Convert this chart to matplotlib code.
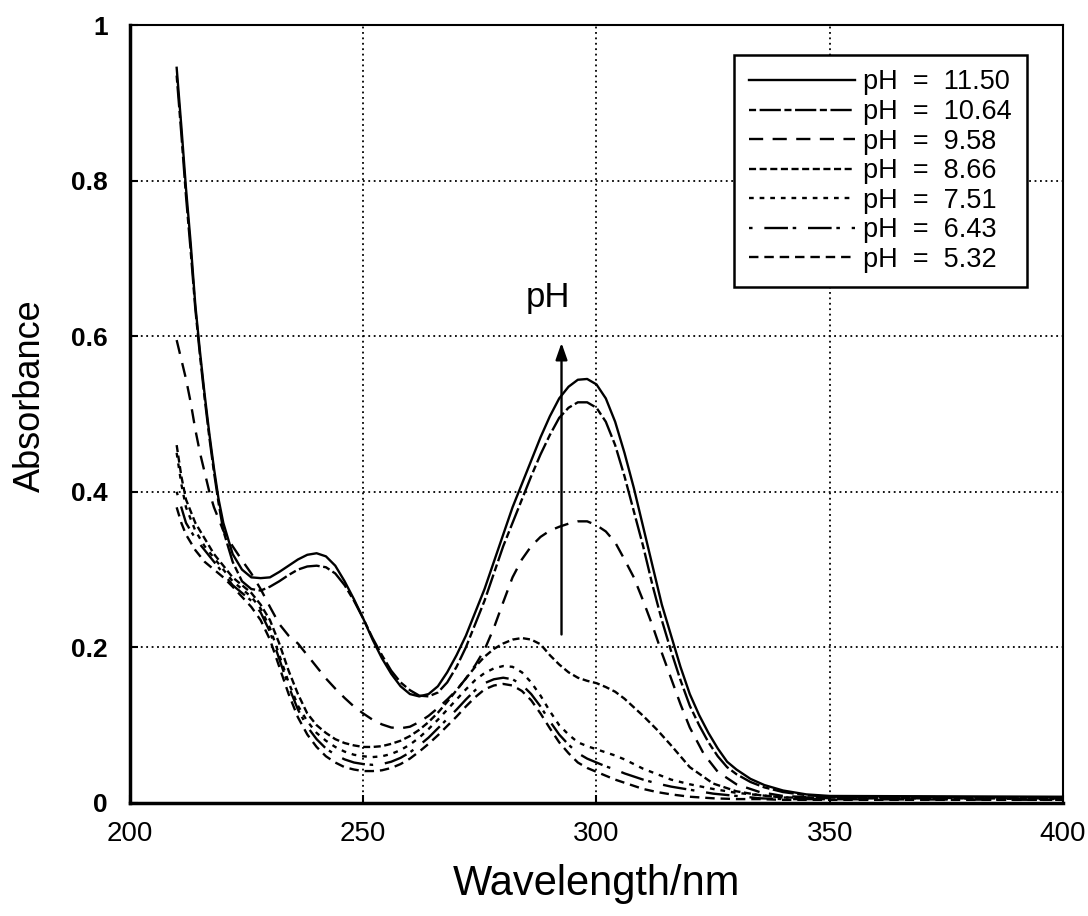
import matplotlib
matplotlib.use("Agg")
import matplotlib.pyplot as plt

plt.rcParams['font.family'] = ['Liberation Sans', 'DejaVu Sans']

# wavelength (nm) / absorbance
wl_a = [210, 211, 212, 213, 214, 215, 216, 217, 218, 219, 220, 222, 224, 226, 228, 230, 232, 234, 236, 238,
        240, 242, 244, 246, 248, 250, 252, 254, 256, 258, 260, 262, 264, 266, 268, 270, 272, 274, 276, 278,
        280, 282, 284, 286, 288, 290, 292, 294, 296, 298, 300, 302, 304, 306, 308, 310, 312, 314, 316, 318,
        320, 322, 324, 326, 328, 330, 333, 336, 340, 345, 350, 400]
abs_a = [0.945, 0.87, 0.79, 0.72, 0.64, 0.58, 0.525, 0.475, 0.43, 0.39, 0.36, 0.32, 0.30, 0.29, 0.289, 0.29, 0.297, 0.305, 0.313, 0.319,
         0.321, 0.317, 0.305, 0.285, 0.262, 0.237, 0.21, 0.186, 0.166, 0.15, 0.14, 0.137, 0.14, 0.15, 0.168, 0.19, 0.215, 0.245, 0.275, 0.31,
         0.345, 0.38, 0.41, 0.44, 0.47, 0.497, 0.52, 0.535, 0.544, 0.545, 0.538, 0.52, 0.49, 0.45, 0.405, 0.355, 0.305, 0.255, 0.215, 0.175,
         0.14, 0.113, 0.09, 0.07, 0.053, 0.043, 0.031, 0.023, 0.016, 0.011, 0.009, 0.008]

wl_b = [210, 211, 212, 213, 214, 215, 216, 217, 218, 219, 220, 222, 224, 226, 228, 230, 232, 234, 236, 238,
        240, 242, 244, 246, 248, 250, 252, 254, 256, 258, 260, 262, 264, 266, 268, 270, 272, 274, 276, 278,
        280, 282, 284, 286, 288, 290, 292, 294, 296, 298, 300, 302, 304, 306, 308, 310, 312, 314, 316, 318,
        320, 322, 324, 326, 328, 330, 333, 336, 340, 345, 350, 400]
abs_b = [0.935, 0.86, 0.78, 0.71, 0.635, 0.575, 0.52, 0.47, 0.425, 0.385, 0.35, 0.31, 0.285, 0.275, 0.273, 0.278, 0.285, 0.293, 0.30, 0.304,
         0.305, 0.303, 0.295, 0.28, 0.26, 0.237, 0.212, 0.19, 0.17, 0.155, 0.145, 0.138, 0.137, 0.142, 0.155, 0.175, 0.2, 0.23, 0.26, 0.295,
         0.33, 0.36, 0.39, 0.42, 0.448, 0.473, 0.495, 0.508, 0.515, 0.515, 0.508, 0.49, 0.46, 0.42, 0.375, 0.33, 0.28, 0.235, 0.195, 0.158,
         0.125, 0.1, 0.078, 0.06, 0.046, 0.037, 0.027, 0.02, 0.014, 0.01, 0.008, 0.007]

wl_c = [210, 211, 212, 213, 214, 215, 216, 217, 218, 220, 222, 224, 226, 228, 230, 232, 234, 236, 238,
        240, 242, 244, 246, 248, 250, 252, 254, 256, 258, 260, 262, 264, 266, 268, 270, 272, 274, 276, 278,
        280, 282, 284, 286, 288, 290, 292, 294, 296, 298, 300, 302, 304, 306, 308, 310, 312, 314, 316, 318,
        320, 323, 326, 330, 335, 340, 350, 400]
abs_c = [0.595, 0.57, 0.545, 0.515, 0.48, 0.45, 0.425, 0.40, 0.38, 0.35, 0.33, 0.312, 0.295, 0.275, 0.252, 0.23, 0.215, 0.205, 0.19,
         0.175, 0.16, 0.147, 0.135, 0.124, 0.115, 0.107, 0.101, 0.097, 0.096, 0.098, 0.104, 0.112, 0.122, 0.133, 0.145, 0.16, 0.177, 0.197, 0.225,
         0.258, 0.29, 0.313, 0.33, 0.342, 0.35, 0.355, 0.359, 0.362, 0.362, 0.357, 0.349, 0.335, 0.313, 0.29, 0.26, 0.228, 0.193, 0.16, 0.127,
         0.097, 0.063, 0.04, 0.024, 0.014, 0.009, 0.006, 0.006]

wl_low = [210, 211, 212, 214, 216, 218, 220, 222, 224, 226, 228, 230, 232, 234, 236, 238,
          240, 242, 244, 246, 248, 250, 252, 254, 256, 258, 260, 262, 264, 266, 268, 270, 272, 274, 276, 278,
          280, 282, 284, 286, 288, 290, 292, 294, 296, 298, 300, 302, 304, 306, 308, 310, 313, 316,
          320, 325, 330, 335, 340, 400]
abs_d = [0.46, 0.42, 0.39, 0.36, 0.34, 0.32, 0.305, 0.29, 0.28, 0.27, 0.255, 0.235, 0.205, 0.17, 0.14, 0.115,
         0.1, 0.09, 0.082, 0.077, 0.074, 0.072, 0.072, 0.073, 0.076, 0.08, 0.086, 0.094, 0.104, 0.116, 0.13, 0.145, 0.16, 0.175, 0.188, 0.198,
         0.205, 0.21, 0.212, 0.21, 0.204, 0.19, 0.178, 0.168, 0.161, 0.157, 0.154, 0.149, 0.143, 0.134, 0.123, 0.112, 0.094, 0.074,
         0.046, 0.025, 0.015, 0.01, 0.007, 0.006]
abs_e = [0.45, 0.41, 0.38, 0.35, 0.33, 0.315, 0.30, 0.285, 0.275, 0.265, 0.25, 0.225, 0.19, 0.155, 0.125, 0.105,
         0.09, 0.08, 0.072, 0.066, 0.062, 0.06, 0.059, 0.06, 0.063, 0.068, 0.075, 0.084, 0.095, 0.107, 0.12, 0.133, 0.146, 0.158, 0.167, 0.173,
         0.176, 0.175, 0.168, 0.155, 0.138, 0.118, 0.1, 0.088, 0.078, 0.073, 0.069, 0.065, 0.061, 0.056, 0.05, 0.044, 0.037, 0.03,
         0.024, 0.018, 0.013, 0.01, 0.007, 0.005]
abs_f = [0.40, 0.38, 0.36, 0.34, 0.325, 0.31, 0.295, 0.28, 0.27, 0.26, 0.245, 0.22, 0.185, 0.15, 0.12, 0.098,
         0.082, 0.07, 0.062, 0.056, 0.052, 0.05, 0.049, 0.05, 0.053, 0.058, 0.065, 0.074, 0.084, 0.096, 0.108, 0.12, 0.133, 0.145, 0.154, 0.159,
         0.161, 0.159, 0.152, 0.14, 0.124, 0.105, 0.088, 0.075, 0.064, 0.057, 0.052, 0.047, 0.043, 0.038, 0.034, 0.03, 0.025, 0.021,
         0.017, 0.012, 0.009, 0.006, 0.005, 0.004]
abs_g = [0.38, 0.36, 0.345, 0.325, 0.31, 0.30, 0.29, 0.278, 0.265, 0.252, 0.235, 0.21, 0.175, 0.14, 0.11, 0.088,
         0.072, 0.06, 0.052, 0.046, 0.043, 0.041, 0.041, 0.042, 0.045, 0.05, 0.057, 0.066, 0.076, 0.087, 0.099, 0.111, 0.124, 0.136, 0.146, 0.151,
         0.153, 0.151, 0.144, 0.132, 0.115, 0.096, 0.078, 0.064, 0.052, 0.045, 0.04, 0.035, 0.03, 0.026, 0.022, 0.018, 0.014, 0.011,
         0.008, 0.006, 0.005, 0.005, 0.004, 0.004]

labels = ['pH  =  11.50', 'pH  =  10.64', 'pH  =  9.58', 'pH  =  8.66', 'pH  =  7.51', 'pH  =  6.43', 'pH  =  5.32']
series = [(wl_a, abs_a), (wl_b, abs_b), (wl_c, abs_c), (wl_low, abs_d), (wl_low, abs_e), (wl_low, abs_f), (wl_low, abs_g)]
styles = ['-', (0, (3, 1.5, 9, 1.5)), (0, (6, 4)), (0, (3, 1.5)), (0, (2, 2.5)), (0, (1.5, 5, 10, 2)), (0, (4, 2.5))]

fig = plt.figure(figsize=(10.88, 9.16), dpi=100)
ax = fig.add_axes([0.1195, 0.1234, 0.8575, 0.8493])

for (x, y), lab, ls in zip(series, labels, styles):
    ax.plot(x, y, color='black', lw=1.7, linestyle=ls, label=lab)

ax.set_xlim(200, 400)
ax.set_ylim(0, 1)
ax.set_xticks([200, 250, 300, 350, 400])
ax.set_yticks([0, 0.2, 0.4, 0.6, 0.8, 1])
ax.set_yticklabels(['0', '0.2', '0.4', '0.6', '0.8', '1'], fontweight='bold')
ax.tick_params(direction='in', length=6, width=1.5)
ax.tick_params(axis='x', pad=13, labelsize=20)
ax.tick_params(axis='y', pad=16, labelsize=19)
ax.grid(True, color='black', linestyle=(0, (1, 2)), linewidth=1.3)

for side in ['left', 'bottom']:
    ax.spines[side].set_linewidth(2.5)
for side in ['top', 'right']:
    ax.spines[side].set_linewidth(1.5)

ax.set_xlabel('Wavelength/nm', fontsize=30, labelpad=12)
ax.set_ylabel('Absorbance', fontsize=26)
ax.yaxis.set_label_coords(-0.088, 0.524)

ax.annotate('', xy=(292.5, 0.595), xytext=(292.5, 0.213),
            arrowprops=dict(arrowstyle='-|>,head_length=1.0,head_width=0.35', color='black', lw=1.7))
ax.text(289.6, 0.65, 'pH', fontsize=25, ha='center', va='center')

leg = ax.legend(loc='upper right', bbox_to_anchor=(0.961, 0.962), borderaxespad=0, fontsize=19.5,
                handlelength=3.9, labelspacing=0.13, handletextpad=0.3, borderpad=0.55,
                fancybox=False, framealpha=1)
leg.get_frame().set_edgecolor('black')
leg.get_frame().set_linewidth(1.8)

fig.savefig('out.png', dpi=100)
